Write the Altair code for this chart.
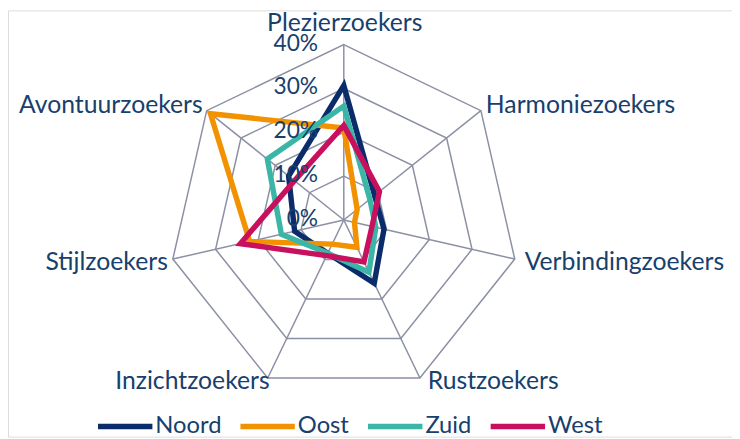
import altair as alt
import pandas as pd

# ---------------- data ----------------
categories = ["Plezierzoekers", "Harmoniezoekers", "Verbindingzoekers", "Rustzoekers",
              "Inzichtzoekers", "Stijlzoekers", "Avontuurzoekers"]
series = ["Noord", "Oost", "Zuid", "West"]
noord = [30.7, 9.0, 9.4, 16.0, 8.4, 11.5, 16.1]
oost = [21.0, 3.9, 2.5, 6.9, 6.1, 22.0, 38.9]
zuid = [26.0, 7.6, 7.5, 13.2, 8.4, 14.6, 22.3]
west = [21.6, 10.4, 6.6, 10.6, 9.0, 24.2, 14.4]
tick_values = [0, 10, 20, 30, 40]
tick_labels = ["0%", "10%", "20%", "30%", "40%"]
ring_levels = [10, 20, 30, 40]

# ---------------- style / layout ----------------
colors = ["#0B2C6B", "#F39200", "#3BB5A6", "#C8105E"]
TEXT = "#17406D"
GRID = "#8B90A3"
FONT = "Lato"
FS = 25
FS_LEG = 24
FS_TICK = 23
N = len(categories)
RMAX = 40
PX = 177.3 / RMAX          # pixels per percentage point
W, H = 732, 431            # plot area (page minus 8px margin)
CX, CY = 339.5, 212        # centre of the radar inside the plot area

xs = alt.Scale(domain=[-CX / PX, (W - CX) / PX], nice=False, zero=False)
ys = alt.Scale(domain=[-(H - CY) / PX, CY / PX], nice=False, zero=False)

ANG = f"datum.idx * 2 * PI / {N}"

rows = []
for s, vals in zip(series, [noord, oost, zuid, west]):
    for i, (c, v) in enumerate(zip(categories, vals)):
        rows.append({"serie": s, "idx": i, "cat": c, "value": v})
df = pd.DataFrame(rows)

ring_df = pd.DataFrame([{"level": l, "idx": i} for l in ring_levels for i in range(N)])
cat_df = pd.DataFrame([{"idx": i, "cat": c, "r": RMAX} for i, c in enumerate(categories)])
tick_df = pd.DataFrame({"v": tick_values, "lab": tick_labels})

X = lambda f: alt.X(f, type="quantitative", scale=xs, axis=None)
Y = lambda f: alt.Y(f, type="quantitative", scale=ys, axis=None)

# grid rings
rings = alt.Chart(ring_df).transform_calculate(
    ang=ANG, px="datum.level * sin(datum.ang)", py="datum.level * cos(datum.ang)"
).mark_line(interpolate="linear-closed", color=GRID, strokeWidth=1.5).encode(
    x=X("px"), y=Y("py"), detail="level:N", order="idx:Q"
)

# spokes
spokes = alt.Chart(cat_df).transform_calculate(
    ang=ANG, x0="0", y0="0",
    ex="datum.r * sin(datum.ang)", ey="datum.r * cos(datum.ang)"
).mark_rule(color=GRID, strokeWidth=1.5).encode(
    x=X("x0"), y=Y("y0"), x2="ex:Q", y2="ey:Q"
)

# series lines (one layer each so West is drawn on top, as in the reference)
color = alt.Color(
    "serie:N",
    scale=alt.Scale(domain=series, range=colors),
    legend=alt.Legend(
        title=None, orient="none", legendX=88, legendY=390,
        direction="horizontal", columns=4, symbolType="stroke",
        symbolSize=3025, symbolStrokeWidth=5.5, labelFont=FONT,
        labelFontSize=FS_LEG, labelColor=TEXT, labelOffset=0,
        columnPadding=8, padding=0,
    ),
)
base = alt.Chart(df).transform_calculate(
    ang=ANG, px="datum.value * sin(datum.ang)", py="datum.value * cos(datum.ang)"
)
series_layers = [
    base.transform_filter(alt.datum.serie == s)
    .mark_line(interpolate="linear-closed", strokeWidth=5.5, strokeJoin="miter")
    .encode(x=X("px"), y=Y("py"), order="idx:Q", color=color)
    for s in series
]

# category labels: (align, dx, dy) nudges per spoke
nudges = [("center", 1, -22), ("left", 5, -6), ("left", 10, 3), ("left", 8, 3),
          ("right", 2, 3), ("right", -5, 3), ("right", -4, -6)]
cat_base = alt.Chart(cat_df).transform_calculate(
    ang=ANG, lx="datum.r * sin(datum.ang)", ly="datum.r * cos(datum.ang)"
)
cat_layers = [
    cat_base.transform_filter(alt.datum.idx == i).mark_text(
        align=a, baseline="middle", dx=dx, dy=dy, font=FONT, fontSize=FS, color=TEXT
    ).encode(x=X("lx"), y=Y("ly"), text="cat:N")
    for i, (a, dx, dy) in enumerate(nudges)
]

# radial tick labels
ticks = alt.Chart(tick_df).transform_calculate(x0="0").mark_text(
    align="right", baseline="middle", dx=-26, dy=-1, font=FONT, fontSize=FS_TICK, color=TEXT
).encode(x=X("x0"), y=Y("v"), text="lab:N")

chart = alt.layer(rings, spokes, *series_layers, ticks, *cat_layers).properties(
    width=W, height=H, padding=0, autosize="none"
).configure_view(strokeWidth=0, stroke="transparent").configure(background="white")

chart.save("out.html", embed_options={"renderer": "svg", "actions": False})
